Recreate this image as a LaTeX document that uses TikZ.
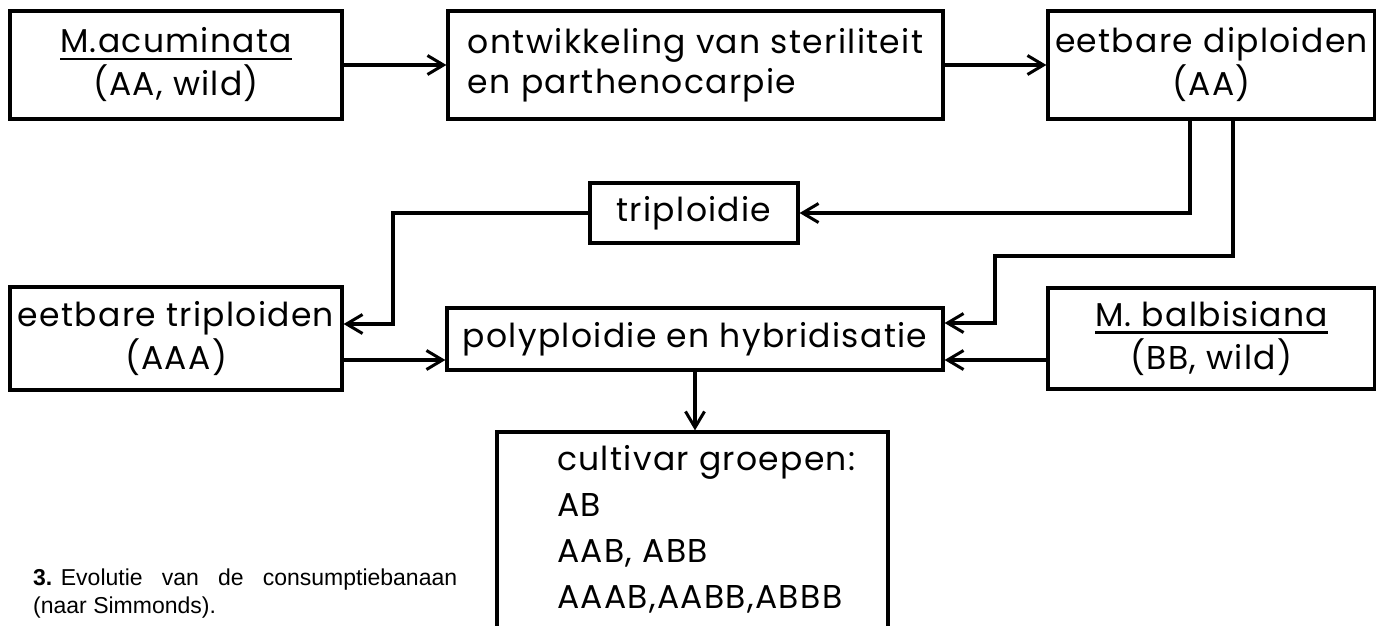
\documentclass[tikz,border=0pt]{standalone}
\usepackage{fontspec}
\setmainfont{Poppins}[LetterSpace=4]
\newfontfamily\capfont{Liberation Sans}
\newcommand{\myul}[1]{\setbox0\hbox{#1}\rlap{\rule[-7.5pt]{\wd0}{2.8pt}}\box0}
\usetikzlibrary{arrows.meta}
\tikzset{
  box/.style={draw, rectangle, line width=3.2pt, inner sep=0pt, align=center,
    font=\fontsize{33}{43}\selectfont},
  conn/.style={line width=3.2pt},
  arr/.style={conn, -{Straight Barb[length=16pt,width=19pt,line width=3pt]}},
}
\begin{document}
\begin{tikzpicture}[x=1pt,y=-1pt]
\useasboundingbox (0,0) rectangle (1376,625);
\clip (0,0) rectangle (1376,625);

\node[box, minimum width=332pt, minimum height=108pt] (acum) at (176,65)
  {\myul{M.acuminata}\\(AA, wild)};
\node[box, minimum width=495pt, minimum height=108pt, align=left,
  font=\fontsize{33}{40}\selectfont] (ontw) at (695.5,65)
  {ontwikkeling van steriliteit\\en parthenocarpie};
\node[box, minimum width=327pt, minimum height=108pt] (dipl) at (1211.5,65)
  {eetbare diploiden\\(AA)};
\node[box, minimum width=208pt, minimum height=60pt] (trip) at (694,213)
  {triploidie};
\node[box, minimum width=332pt, minimum height=103pt] (ttrip) at (176,338.5)
  {eetbare triploiden\\(AAA)};
\node[box, minimum width=496pt, minimum height=62pt] (poly) at (695,339)
  {polyploidie en hybridisatie};
\node[box, minimum width=327pt, minimum height=101pt] (balb) at (1211.5,338.5)
  {\myul{M. balbisiana}\\(BB, wild)};
\node[box, minimum width=391pt, minimum height=218pt] (cult) at (692.5,541) {};
\node[inner sep=0pt, anchor=base west, align=left,
  font=\fontsize{33}{46}\selectfont] (culttext) at (557,608)
  {cultivar groepen:\\AB\\AAB, ABB\\AAAB,AABB,ABBB};

\node[inner sep=0pt, anchor=base west, text width=424pt, align=justify,
  font=\capfont\fontsize{23}{28}\selectfont] (cap) at (33,585)
  {\hbox{\textbf{3.} Evolutie} van de consumptiebanaan\linebreak (naar Simmonds).};

\draw[arr] (acum.east) -- (ontw.west);
\draw[arr] (ontw.east) -- (dipl.west);
\draw[arr] ([xshift=-21.5pt]dipl.south) |- (trip.east);
\draw[arr] ([xshift=21.5pt]dipl.south) |- (995,256) |- ([yshift=16pt]poly.east);
\draw[arr] (trip.west) -| (393,324) -- ([yshift=14.5pt]ttrip.east);
\draw[arr] ([yshift=-21.5pt]ttrip.east) -- ([yshift=-21pt]poly.west);
\draw[arr] ([yshift=-21.5pt]balb.west) -- ([yshift=-21pt]poly.east);
\draw[arr] (poly.south) -- (poly.south |- cult.north);
\end{tikzpicture}
\end{document}
